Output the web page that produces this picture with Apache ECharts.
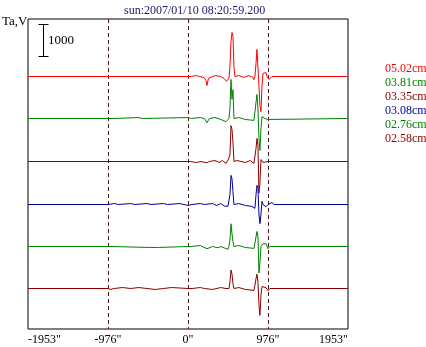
<!DOCTYPE html>
<html>
<head>
<meta charset="utf-8">
<script src="https://cdn.jsdelivr.net/npm/echarts@6/dist/echarts.min.js"></script>
<style>
  html, body { margin: 0; padding: 0; background: #fff; }
  #chart { width: 426px; height: 347px; }
</style>
</head>
<body>
<div id="chart"></div>
<script>
/* ---------------- DATA ---------------- */

const TITLE = "sun:2007/01/10 08:20:59.200";
const Y_NAME = "Ta,V";
const X_MIN = -1953;
const X_MAX = 1953;
const X_STEP = 976.5;
const SCALE_BAR = 1000;

const NAMES = ["05.02cm", "03.81cm", "03.35cm", "03.08cm", "02.76cm", "02.58cm"];
const COLORS = ["#ff0000", "#008000", "#8a0000", "#000099", "#008000", "#8a0000"];

// [arcsec, Ta]
const ch0502 = [
  [-1953, 0], [-990, 0], [-976, 30], [-960, 0], [0, 0], [12, 30], [40, 0], [100, 30], [140, 0],
  [195, -30], [220, -120], [232, -280], [250, -60], [268, 0], [330, 30], [400, 0], [440, -60],
  [470, -150], [488, -200], [500, -50], [512, 300], [525, 1100], [537, 1375], [549, 1250],
  [561, 300], [573, 0], [620, 30], [680, -30], [740, 30], [790, -30], [805, -100], [817, 0],
  [830, 400], [842, 844], [854, 800], [866, -300], [878, -900], [891, -1100], [903, -300],
  [915, 100], [927, 140], [939, 130], [952, 120], [964, 0], [976, -60], [990, -90], [1025, 0],
  [1953, 0],
];
const ch0381 = [
  [-1953, 0], [-976, 0], [-960, 30], [-900, 0], [-600, 30], [-560, 0], [0, 30], [40, 0],
  [150, 30], [200, 0], [232, -130], [260, 0], [330, 30], [400, -30], [464, -100], [488, -150],
  [500, 0], [512, 300], [525, 1220], [537, 600], [549, 900], [561, 0], [620, 30], [700, -30],
  [805, -60], [817, 0], [830, 500], [842, 750], [854, 300], [866, -600], [878, -1000],
  [891, -300], [903, 60], [915, 80], [927, 40], [939, 0], [976, -30], [1000, 0], [1953, 0],
];
const ch0335 = [
  [-1953, 0], [-976, 0], [0, 0], [12, 40], [30, 0], [100, -30], [160, 0], [230, -40], [260, 0],
  [330, 30], [380, -30], [420, 30], [464, -60], [488, 40], [500, 0], [512, 200], [525, 1120],
  [537, 1000], [549, 600], [561, 0], [600, 30], [700, -30], [760, 30], [805, -60], [817, 0],
  [830, 400], [842, 720], [854, 500], [866, -985], [878, -700], [891, 60], [903, 30],
  [915, -30], [976, 0], [1000, 30], [1025, 0], [1953, 0],
];
const ch0308 = [
  [-1953, 0], [-976, 0], [-900, 30], [-850, 0], [-700, 30], [-650, 0], [-500, 30], [-450, 0],
  [-300, 30], [-250, 0], [-100, 30], [-50, 0], [0, -30], [50, 0], [150, 30], [200, 0],
  [300, 30], [350, -30], [400, 30], [450, -60], [488, -50], [500, 0], [512, 300], [525, 910],
  [537, 800], [549, 400], [561, 0], [620, 30], [700, -30], [780, -60], [817, -120], [830, 300],
  [842, 600], [854, 500], [866, -300], [878, -600], [891, -300], [903, 100], [915, 0],
  [927, -50], [952, -70], [976, 0], [1000, 30], [1025, 60], [1050, 0], [1953, 0],
];
const ch0276 = [
  [-1953, 0], [-976, 0], [-960, -30], [-940, 0], [-470, -30], [-450, 0], [-360, -30],
  [-340, 0], [0, 0], [12, -30], [40, 0], [150, 30], [232, -70], [300, 0], [366, -40], [400, 0],
  [488, -90], [500, 0], [512, 200], [525, 710], [537, 400], [549, 150], [561, 0], [620, 30],
  [700, -30], [805, -60], [817, 100], [830, 300], [842, 470], [854, 300], [866, -830],
  [878, -500], [891, 0], [915, 85], [952, 85], [976, -70], [1000, 0], [1953, 0],
];
const ch0258 = [
  [-1953, 0], [-976, 0], [-950, -30], [-900, 0], [-800, 30], [-700, 0], [-600, 30], [-500, 0],
  [-400, -30], [-300, 0], [-200, 30], [0, 0], [12, 40], [50, 0], [150, 30], [200, 0],
  [300, -30], [400, 30], [464, 0], [488, -60], [500, 0], [512, 200], [525, 580], [537, 450],
  [549, 150], [561, 0], [620, 30], [700, -30], [805, -60], [817, 100], [830, 300], [842, 450],
  [854, 200], [866, -500], [878, -840], [891, -200], [903, 60], [915, 60], [952, 30],
  [976, -70], [1000, 0], [1953, 0],
];
const CHANNELS = [ch0502, ch0381, ch0335, ch0308, ch0276, ch0258];

/* ---------------- LAYOUT ---------------- */

const GRID = { left: 28, top: 19, width: 320, height: 310 };
const PX_PER_BAR = 32;                 // pixels for SCALE_BAR units
const BASE_Y = [76.5, 118.5, 161.5, 204.5, 246.5, 288.5];  // baseline row of each trace
const FONT = "Liberation Serif";

const unitsPerPx = SCALE_BAR / PX_PER_BAR;

/* ---------------- CHART ---------------- */

const chart = echarts.init(document.getElementById("chart"));

const yAxes = BASE_Y.map((b) => ({
  type: "value",
  show: false,
  max: (b - GRID.top) * unitsPerPx,
  min: -(GRID.top + GRID.height - b) * unitsPerPx,
  splitLine: { show: false },
}));

// scale bar, drawn in the first trace's units (x is a fixed spot left of the traces)
const scaleBar = {
  type: "custom",
  yAxisIndex: 0,
  silent: true,
  clip: false,
  data: [[0]],
  renderItem: (params, api) => {
    const yA = api.coord([0, 0])[1];
    const yB = api.coord([0, SCALE_BAR])[1];
    const len = Math.round(yA - yB);
    const x = 43.5, top = 24.5, bot = top + len;
    return {
      type: "group",
      children: [
        { type: "line", shape: { x1: x, y1: top, x2: x, y2: bot }, style: { stroke: "#000", lineWidth: 1 } },
        { type: "line", shape: { x1: x - 5, y1: top, x2: x + 5, y2: top }, style: { stroke: "#000", lineWidth: 1 } },
        { type: "line", shape: { x1: x - 5, y1: bot, x2: x + 5, y2: bot }, style: { stroke: "#000", lineWidth: 1 } },
        {
          type: "text",
          x: 48,
          y: (top + bot) / 2,
          style: { text: String(SCALE_BAR), font: "13px " + FONT, fill: "#000", verticalAlign: "middle" },
        },
      ],
    };
  },
};

chart.setOption({
  animation: false,
  backgroundColor: "#fff",
  title: {
    text: TITLE,
    left: 119,
    top: 0,
    textStyle: { fontFamily: FONT, fontSize: 12, fontWeight: "normal", color: "#1a1a6e" },
  },
  legend: {
    orient: "vertical",
    left: 380,
    top: 58,
    itemWidth: 0,
    itemHeight: 12,
    itemGap: 2,
    icon: "none",
    selectedMode: false,
    textStyle: { fontFamily: FONT, fontSize: 12, padding: [0, 0, 0, -5] },
    data: NAMES.map((n, i) => ({ name: n, textStyle: { color: COLORS[i] } })),
  },
  grid: {
    left: GRID.left,
    top: GRID.top,
    width: GRID.width,
    height: GRID.height,
    show: true,
    borderColor: "#000",
    borderWidth: 1,
  },
  xAxis: {
    type: "value",
    min: X_MIN,
    max: X_MAX,
    interval: X_STEP,
    axisLine: { show: false, onZero: false },
    axisTick: { show: false },
    axisLabel: {
      fontFamily: FONT,
      fontSize: 12,
      color: "#000",
      margin: 5,
      alignMinLabel: "left",
      alignMaxLabel: "right",
      formatter: (v) => Math.trunc(v) + '"',
    },
    splitLine: {
      show: true,
      showMinLine: false,
      showMaxLine: false,
      lineStyle: { color: "#4a1818", type: [4, 3], width: 1 },
    },
  },
  yAxis: yAxes,
  graphic: [
    {
      type: "text",
      left: 2,
      top: 15,
      style: { text: Y_NAME, font: "13px " + FONT, fill: "#000" },
    },
  ],
  series: CHANNELS.map((d, i) => ({
    name: NAMES[i],
    type: "line",
    yAxisIndex: i,
    data: d,
    showSymbol: false,
    symbol: "none",
    clip: false,
    lineStyle: { width: 1, color: COLORS[i] },
    itemStyle: { color: COLORS[i] },
    z: 3,
  })).concat([scaleBar]),
});
</script>
</body>
</html>
